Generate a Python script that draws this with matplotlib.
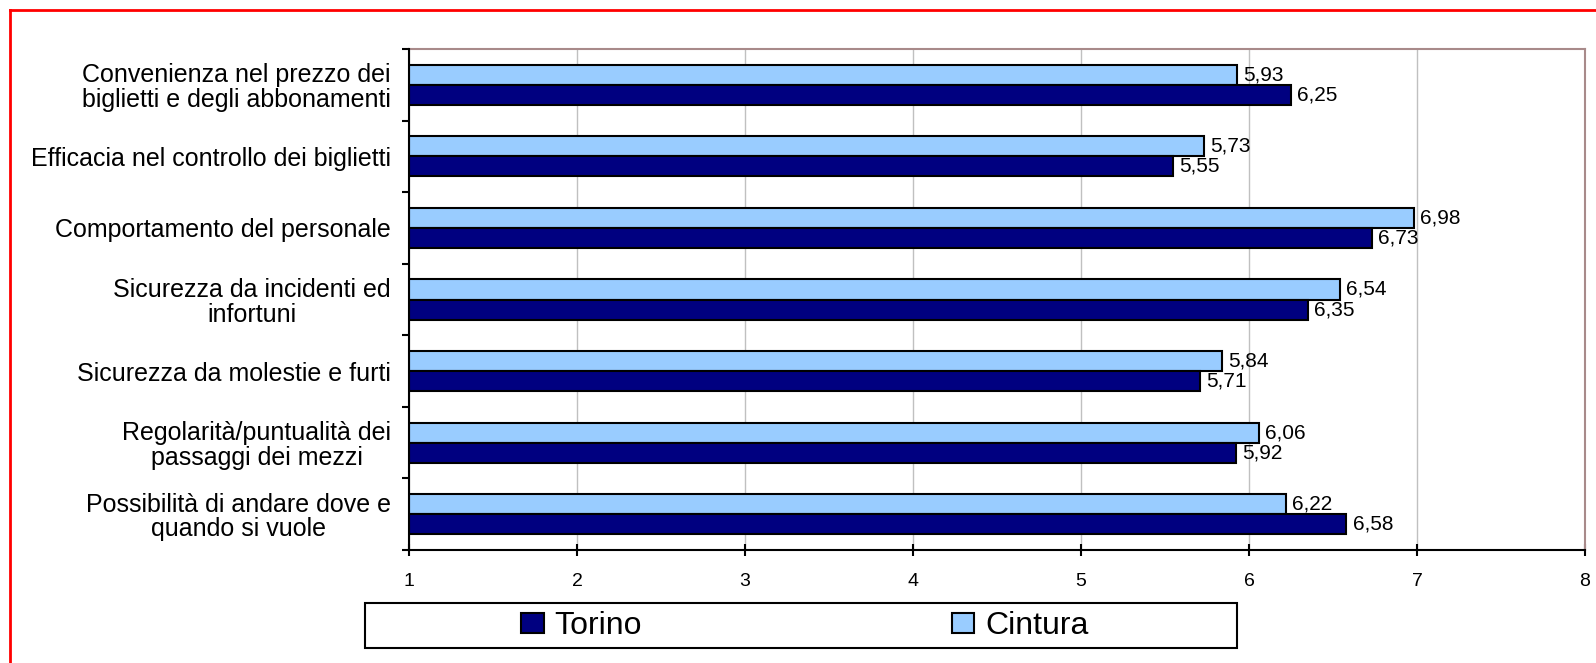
import matplotlib
matplotlib.use("Agg")
import matplotlib.pyplot as plt
from matplotlib.patches import Patch, Rectangle
from matplotlib.lines import Line2D

plt.rcParams['font.family'] = ['Liberation Sans', 'DejaVu Sans']

# dati (dall'alto verso il basso)
categorie = [
    "Convenienza nel prezzo dei\nbiglietti e degli abbonamenti",
    "Efficacia nel controllo dei biglietti",
    "Comportamento del personale",
    "Sicurezza da incidenti ed\ninfortuni",
    "Sicurezza da molestie e furti",
    "Regolarità/puntualità dei\npassaggi dei mezzi",
    "Possibilità di andare dove e\nquando si vuole",
]
torino = [6.25, 5.55, 6.73, 6.35, 5.71, 5.92, 6.58]
cintura = [5.93, 5.73, 6.98, 6.54, 5.84, 6.06, 6.22]
x_ticks = [1, 2, 3, 4, 5, 6, 7, 8]

COL_TORINO = '#000080'
COL_CINTURA = '#99ccff'

W, H = 1596, 663
fig = plt.figure(figsize=(W / 100, H / 100), dpi=100)
ax = fig.add_axes([409 / W, 1 - 550 / H, (1585 - 409) / W, (550 - 49) / H])

bh = 0.28
pos = list(range(len(categorie)))
ax.barh([p - bh / 2 for p in pos], [v - 1 for v in cintura], left=1, height=bh,
        color=COL_CINTURA, edgecolor='black', linewidth=1.5, zorder=3)
ax.barh([p + bh / 2 for p in pos], [v - 1 for v in torino], left=1, height=bh,
        color=COL_TORINO, edgecolor='black', linewidth=1.5, zorder=3)

# etichette valori
def fmt(v):
    return f"{v:.2f}".replace('.', ',')

for p, c, t in zip(pos, cintura, torino):
    ax.annotate(fmt(c), (c, p - bh / 2), xytext=(4.5, 0), textcoords='offset points',
                ha='left', va='center', fontsize=15, zorder=4)
    ax.annotate(fmt(t), (t, p + bh / 2), xytext=(4.5, 0), textcoords='offset points',
                ha='left', va='center', fontsize=15, zorder=4)

ax.set_xlim(1, 8)
ax.set_ylim(len(categorie) - 0.5, -0.5)

ax.set_xticks(x_ticks)
ax.set_xticklabels([str(t) for t in x_ticks], fontsize=14)
ax.tick_params(axis='x', direction='inout', length=9, width=1.5, pad=12)
ax.grid(axis='x', color='#c0c0c0', linewidth=1, zorder=0)

# tick ai confini delle categorie, etichette al centro
ax.set_yticks([p - 0.5 for p in pos] + [len(categorie) - 0.5])
ax.set_yticklabels([])
ax.tick_params(axis='y', which='major', direction='out', length=5, width=1.5)
ax.set_yticks(pos, minor=True)
ax.set_yticklabels(categorie, minor=True, fontsize=18, ha='right',
                   multialignment='center', linespacing=1.03)
ax.tick_params(axis='y', which='minor', length=0, pad=13)

for s in ['left', 'bottom']:
    ax.spines[s].set_color('black')
    ax.spines[s].set_linewidth(1.5)
for s in ['top', 'right']:
    ax.spines[s].set_color('#a88a8a')
    ax.spines[s].set_linewidth(1.5)
ax.spines['left'].set_zorder(5)

# legenda
fig.add_artist(Rectangle((365 / W, 1 - 648 / H), (1237 - 365) / W, 45 / H,
                         transform=fig.transFigure, facecolor='white',
                         edgecolor='black', linewidth=1.5))
handles = [Patch(facecolor=COL_TORINO, edgecolor='black', linewidth=1.5),
           Patch(facecolor=COL_CINTURA, edgecolor='black', linewidth=1.5)]
fig.legend(handles, ['Torino', 'Cintura'], loc='center',
           bbox_to_anchor=(805 / W, 1 - 626 / H), ncol=2, frameon=False,
           fontsize=23, handlelength=0.7, handleheight=0.6,
           handletextpad=0.34, columnspacing=9.7)

# bordo rosso
fig.add_artist(Line2D([10 / W, 1], [1 - 10 / H, 1 - 10 / H], color='red', linewidth=2,
                      transform=fig.transFigure))
fig.add_artist(Line2D([10 / W, 10 / W], [0, 1 - 10 / H], color='red', linewidth=2,
                      transform=fig.transFigure))

fig.savefig('out.png', dpi=100, facecolor='white')
